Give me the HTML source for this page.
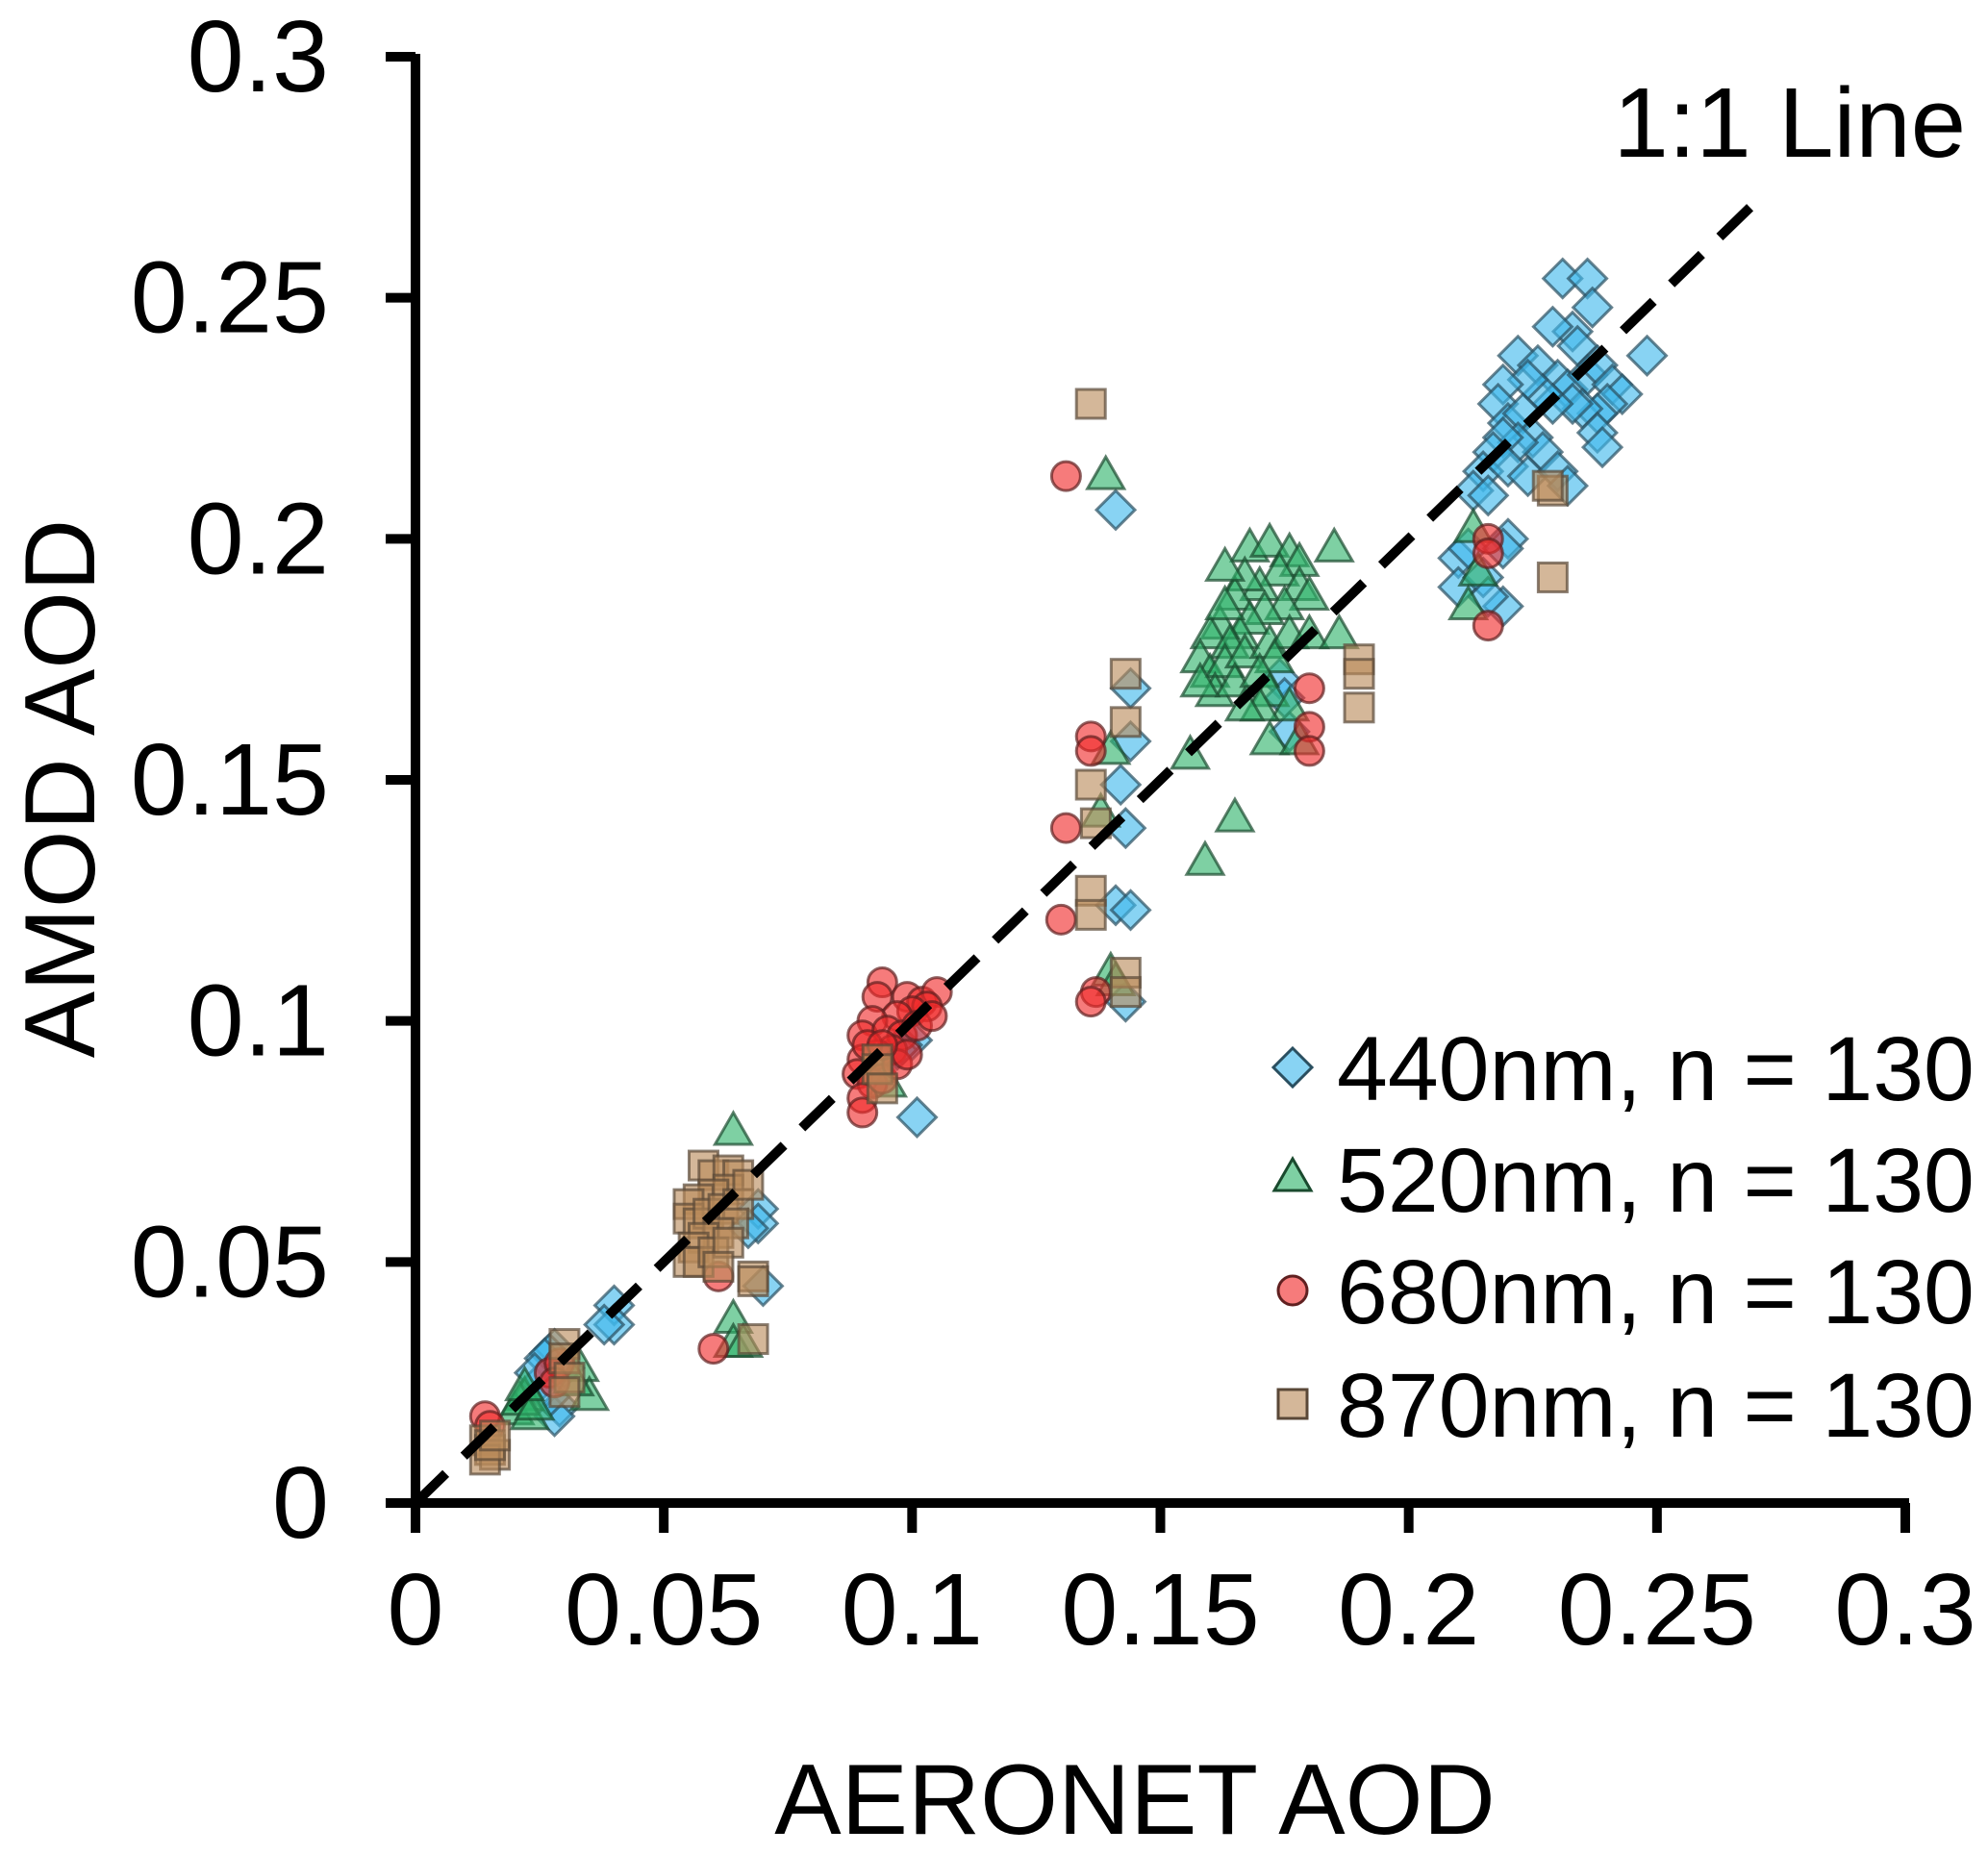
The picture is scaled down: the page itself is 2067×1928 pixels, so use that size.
<!DOCTYPE html>
<html><head><meta charset="utf-8"><style>
html,body{margin:0;padding:0;background:#fff}
svg{display:block;font-family:"Liberation Sans",Arial,sans-serif}
</style></head><body>
<svg id="chart" width="2067" height="1928" viewBox="0 0 2067 1928" xmlns="http://www.w3.org/2000/svg">
<g id="marks"></g>
<g id="axes"></g>
</svg>
<script>
const xTicks=[0,0.05,0.1,0.15,0.2,0.25,0.3];
const yTicks=[0,0.05,0.1,0.15,0.2,0.25,0.3];
const xTickLabels=["0","0.05","0.1","0.15","0.2","0.25","0.3"];
const yTickLabels=["0","0.05","0.1","0.15","0.2","0.25","0.3"];
const lineEnd=0.2708;
const s440=[[0.231,0.254],[0.236,0.254],[0.237,0.248],[0.233,0.243],[0.229,0.244],[0.234,0.24],[0.222,0.238],[0.226,0.236],[0.23,0.233],[0.232,0.231],[0.236,0.234],[0.238,0.236],[0.241,0.232],[0.243,0.23],[0.24,0.228],[0.238,0.226],[0.235,0.227],[0.233,0.228],[0.229,0.228],[0.227,0.23],[0.224,0.233],[0.219,0.232],[0.218,0.228],[0.22,0.224],[0.223,0.226],[0.225,0.221],[0.227,0.218],[0.222,0.22],[0.219,0.221],[0.217,0.218],[0.215,0.214],[0.213,0.21],[0.216,0.209],[0.22,0.215],[0.224,0.213],[0.23,0.214],[0.238,0.222],[0.239,0.219],[0.248,0.238],[0.232,0.211],[0.21,0.196],[0.21,0.19],[0.215,0.192],[0.219,0.186],[0.216,0.188],[0.22,0.2],[0.212,0.198],[0.219,0.198],[0.141,0.206],[0.144,0.169],[0.144,0.158],[0.142,0.149],[0.143,0.14],[0.141,0.124],[0.144,0.123],[0.143,0.104],[0.174,0.171],[0.176,0.16],[0.175,0.167],[0.1,0.096],[0.098,0.095],[0.101,0.08],[0.097,0.094],[0.069,0.061],[0.069,0.058],[0.07,0.045],[0.067,0.057],[0.04,0.041],[0.04,0.037],[0.038,0.037],[0.028,0.032],[0.027,0.031],[0.026,0.03],[0.029,0.02],[0.028,0.018],[0.025,0.025],[0.03,0.028],[0.027,0.022],[0.024,0.027]];
const s520=[[0.168,0.198],[0.172,0.199],[0.176,0.197],[0.178,0.195],[0.174,0.193],[0.17,0.19],[0.167,0.192],[0.165,0.188],[0.163,0.194],[0.185,0.198],[0.178,0.19],[0.18,0.188],[0.175,0.186],[0.171,0.185],[0.168,0.183],[0.166,0.18],[0.162,0.182],[0.16,0.18],[0.164,0.178],[0.158,0.175],[0.16,0.172],[0.163,0.174],[0.167,0.176],[0.172,0.178],[0.176,0.18],[0.173,0.175],[0.18,0.18],[0.186,0.18],[0.161,0.168],[0.165,0.17],[0.17,0.172],[0.172,0.168],[0.176,0.165],[0.17,0.165],[0.167,0.165],[0.172,0.158],[0.178,0.158],[0.156,0.155],[0.165,0.142],[0.159,0.133],[0.158,0.17],[0.163,0.186],[0.139,0.213],[0.14,0.156],[0.138,0.143],[0.14,0.11],[0.141,0.108],[0.213,0.202],[0.214,0.193],[0.212,0.186],[0.095,0.087],[0.093,0.09],[0.064,0.077],[0.064,0.038],[0.064,0.033],[0.066,0.033],[0.022,0.022],[0.02,0.019],[0.023,0.018],[0.021,0.021],[0.024,0.02],[0.033,0.028],[0.035,0.022],[0.032,0.025],[0.022,0.024]];
const s680=[[0.094,0.108],[0.093,0.105],[0.099,0.105],[0.102,0.104],[0.105,0.106],[0.103,0.103],[0.1,0.102],[0.097,0.101],[0.092,0.1],[0.09,0.097],[0.095,0.098],[0.098,0.097],[0.101,0.099],[0.104,0.101],[0.096,0.094],[0.093,0.093],[0.09,0.092],[0.089,0.089],[0.092,0.087],[0.09,0.084],[0.09,0.081],[0.094,0.088],[0.097,0.091],[0.099,0.093],[0.091,0.095],[0.094,0.095],[0.131,0.213],[0.136,0.159],[0.136,0.156],[0.131,0.14],[0.13,0.121],[0.137,0.106],[0.136,0.104],[0.18,0.169],[0.18,0.161],[0.18,0.156],[0.216,0.2],[0.216,0.197],[0.216,0.182],[0.061,0.047],[0.06,0.032],[0.014,0.018],[0.015,0.016],[0.027,0.027],[0.029,0.029],[0.028,0.025]];
const s870=[[0.058,0.07],[0.06,0.068],[0.063,0.069],[0.065,0.068],[0.063,0.065],[0.06,0.064],[0.057,0.063],[0.055,0.062],[0.055,0.059],[0.057,0.058],[0.059,0.06],[0.062,0.061],[0.065,0.062],[0.064,0.058],[0.061,0.056],[0.058,0.055],[0.056,0.053],[0.055,0.05],[0.057,0.05],[0.06,0.052],[0.063,0.054],[0.061,0.049],[0.068,0.047],[0.068,0.046],[0.068,0.034],[0.067,0.066],[0.014,0.013],[0.015,0.011],[0.016,0.01],[0.014,0.009],[0.015,0.012],[0.016,0.014],[0.03,0.033],[0.03,0.03],[0.031,0.026],[0.03,0.023],[0.136,0.228],[0.143,0.172],[0.143,0.162],[0.136,0.149],[0.137,0.141],[0.136,0.127],[0.136,0.122],[0.143,0.11],[0.143,0.106],[0.19,0.175],[0.19,0.172],[0.19,0.165],[0.229,0.21],[0.228,0.211],[0.229,0.192],[0.093,0.092],[0.093,0.09],[0.094,0.086]];

const NS="http://www.w3.org/2000/svg";
const X0=432,X1=1981,Y0=1563,Y1=59;
function xs(v){return X0+(X1-X0)*v/0.3;}
function ys(v){return Y0-(Y0-Y1)*v/0.3;}
function mk(tag,attrs,parent){const e=document.createElementNS(NS,tag);for(const k in attrs)e.setAttribute(k,attrs[k]);parent.appendChild(e);return e;}
const marks=document.getElementById('marks'),axes=document.getElementById('axes');
const styles={
 d:{fill:"#3fb8ec",stroke:"#2a4f60"},
 t:{fill:"#2fb36a",stroke:"#1a4a2e"},
 c:{fill:"#f02a2a",stroke:"#602020"},
 s:{fill:"#b98a5a",stroke:"#5a4838"}
};
function marker(type,cx,cy,parent){
 let e;const st=styles[type];
 if(type==='d'){e=mk('polygon',{points:`${cx},${cy-20} ${cx+20},${cy} ${cx},${cy+20} ${cx-20},${cy}`},parent);}
 else if(type==='t'){e=mk('polygon',{points:`${cx},${cy-20} ${cx+19},${cy+13} ${cx-19},${cy+13}`},parent);}
 else if(type==='c'){e=mk('circle',{cx:cx,cy:cy,r:15},parent);}
 else {e=mk('rect',{x:cx-15,y:cy-15,width:30,height:30},parent);}
 e.setAttribute('fill',st.fill);e.setAttribute('fill-opacity','0.62');
 e.setAttribute('stroke',st.stroke);e.setAttribute('stroke-opacity','0.7');e.setAttribute('stroke-width','3');
 return e;
}
const series=[['d',s440,'440'],['t',s520,'520'],['c',s680,'680'],['s',s870,'870']];
series.forEach(([t,arr,n])=>{
 const g=mk('g',{},marks);
 
 
 arr.forEach(p=>{const e=marker(t,xs(p[0]),ys(p[1]),g);
  
  });
});
const ln=mk('line',{x1:xs(0),y1:ys(0),x2:xs(lineEnd),y2:ys(lineEnd),stroke:"#000","stroke-width":10,"stroke-dasharray":"44 26","stroke-linecap":"butt"},axes);


const ya=mk('line',{x1:X0,y1:Y1-3,x2:X0,y2:Y0+31,stroke:"#000","stroke-width":10},axes);


const xa=mk('line',{x1:X0-31,y1:Y0,x2:X1+4,y2:Y0,stroke:"#000","stroke-width":10},axes);


xTicks.forEach((v,i)=>{
 const t=mk('line',{x1:xs(v),y1:Y0,x2:xs(v),y2:Y0+31,stroke:"#000","stroke-width":10},axes);
 
 
 const l=mk('text',{x:xs(v),y:1710,"font-size":106,"text-anchor":"middle",fill:"#000"},axes);
 l.textContent=xTickLabels[i];
 
 
});
yTicks.forEach((v,i)=>{
 const t=mk('line',{x1:X0-31,y1:ys(v),x2:X0,y2:ys(v),stroke:"#000","stroke-width":10},axes);
 
 
 const l=mk('text',{x:342,y:ys(v)+36,"font-size":106,"text-anchor":"end",fill:"#000"},axes);
 l.textContent=yTickLabels[i];
 
 
});
</script>
<svg style="position:absolute;left:0;top:0" width="2067" height="1928">
<text x="1180" y="1907" font-size="104" text-anchor="middle" font-family="Liberation Sans, sans-serif">AERONET AOD</text>
<text x="0" y="0" font-size="104" text-anchor="middle" font-family="Liberation Sans, sans-serif" transform="translate(98,820) rotate(-90)">AMOD AOD</text>
<text x="2044" y="163" font-size="103" text-anchor="end" font-family="Liberation Sans, sans-serif">1:1 Line</text>
<g font-family="Liberation Sans, sans-serif" font-size="95">
 <polygon points="1344,1090 1364,1110 1344,1130 1324,1110" fill="#3fb8ec" fill-opacity="0.62" stroke="#2a4f60" stroke-width="3"/>
 <text x="1390" y="1144">440nm, n = 130</text>
 <polygon points="1344,1205 1363,1238 1325,1238" fill="#2fb36a" fill-opacity="0.62" stroke="#1a4a2e" stroke-width="3"/>
 <text x="1390" y="1260">520nm, n = 130</text>
 <circle cx="1344" cy="1342" r="15" fill="#f02a2a" fill-opacity="0.62" stroke="#602020" stroke-width="3"/>
 <text x="1390" y="1376">680nm, n = 130</text>
 <rect x="1329" y="1445" width="30" height="30" fill="#b98a5a" fill-opacity="0.62" stroke="#5a4838" stroke-width="3"/>
 <text x="1390" y="1494">870nm, n = 130</text>
</g>
</svg>
</body></html>
